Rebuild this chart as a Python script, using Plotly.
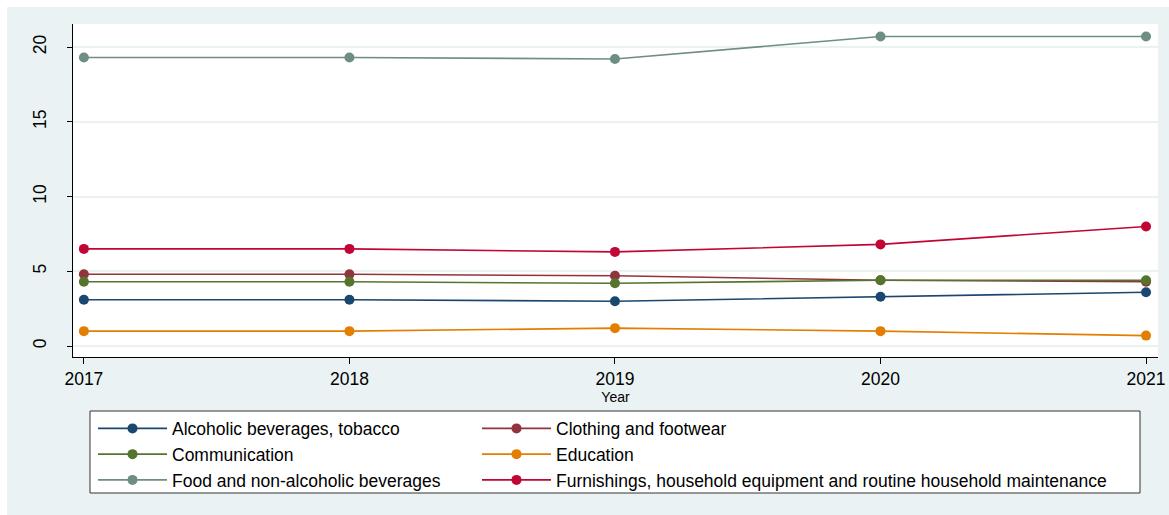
import plotly.graph_objects as go

years = [2017, 2018, 2019, 2020, 2021]
names = [
    "Alcoholic beverages, tobacco",
    "Clothing and footwear",
    "Communication",
    "Education",
    "Food and non-alcoholic beverages",
    "Furnishings, household equipment and routine household maintenance",
]
alcohol = [3.1, 3.1, 3.0, 3.3, 3.6]
clothing = [4.8, 4.8, 4.7, 4.4, 4.3]
communication = [4.3, 4.3, 4.2, 4.4, 4.4]
education = [1.0, 1.0, 1.2, 1.0, 0.7]
food = [19.3, 19.3, 19.2, 20.7, 20.7]
furnishings = [6.5, 6.5, 6.3, 6.8, 8.0]
y_ticks = [0, 5, 10, 15, 20]

series = [alcohol, clothing, communication, education, food, furnishings]
colors = ["#1a476f", "#90353b", "#55752f", "#e37e00", "#6e8e84", "#c10534"]
legend_ids = ["legend", "legend2", "legend", "legend2", "legend", "legend2"]

W, H = 1169, 515
L, R, T, B = 73, 11, 24, 158
pw, ph = W - L - R, H - T - B


def px_x(x):
    return (x - L) / pw


def px_y(y):
    return 1 - (y - T) / ph


fig = go.Figure()
for nm, vals, col, lg in zip(names, series, colors, legend_ids):
    fig.add_trace(go.Scatter(
        x=years, y=vals, name=nm, mode="lines+markers",
        line=dict(color=col, width=1.6),
        marker=dict(color=col, size=10),
        legend=lg,
    ))

font = "Liberation Sans, Arial, sans-serif"
leg_common = dict(
    orientation="v", xanchor="left", yanchor="top",
    font=dict(family=font, size=17.5, color="#000"),
    bgcolor="rgba(0,0,0,0)", borderwidth=0, itemwidth=69,
    tracegroupgap=0,
)

fig.update_layout(
    template="none",
    width=W, height=H,
    margin=dict(l=L, r=R, t=T, b=B, autoexpand=False),
    paper_bgcolor="white",
    plot_bgcolor="white",
    showlegend=True,
    legend=dict(x=px_x(93), y=px_y(410.5), **leg_common),
    legend2=dict(x=px_x(477), y=px_y(410.5), **leg_common),
    shapes=[
        dict(type="rect", xref="paper", yref="paper", layer="below",
             x0=px_x(7), x1=px_x(1169), y0=px_y(515), y1=px_y(7),
             fillcolor="#eaf2f3", line=dict(width=0)),
        dict(type="rect", xref="paper", yref="paper", layer="below",
             x0=0, x1=1, y0=0, y1=1,
             fillcolor="white", line=dict(width=0)),
        dict(type="rect", xref="paper", yref="paper", layer="below",
             x0=px_x(90), x1=px_x(1140), y0=px_y(493), y1=px_y(411),
             fillcolor="white", line=dict(color="#333333", width=1)),
    ],
    xaxis=dict(
        range=[2016.959, 2021.045], tickvals=years,
        ticktext=[str(y) for y in years],
        automargin=False,
        showgrid=False, zeroline=False,
        showline=True, linecolor="#000", linewidth=1,
        ticks="outside", ticklen=6, tickcolor="#000", tickwidth=1,
        tickfont=dict(family=font, size=17.5, color="#000"),
        title=dict(text="Year", font=dict(family=font, size=14, color="#000"), standoff=0),
    ),
    yaxis=dict(
        range=[-0.73, 21.54], tickvals=y_ticks,
        automargin=False,
        showgrid=True, gridcolor="#eaf2f3", gridwidth=1.5,
        zeroline=False,
        showline=True, linecolor="#000", linewidth=1,
        ticks="outside", ticklen=5, tickcolor="#000", tickwidth=1,
        tickangle=-90, ticklabelstandoff=14,
        tickfont=dict(family=font, size=17.5, color="#000"),
    ),
)

fig.write_html("out.html")
